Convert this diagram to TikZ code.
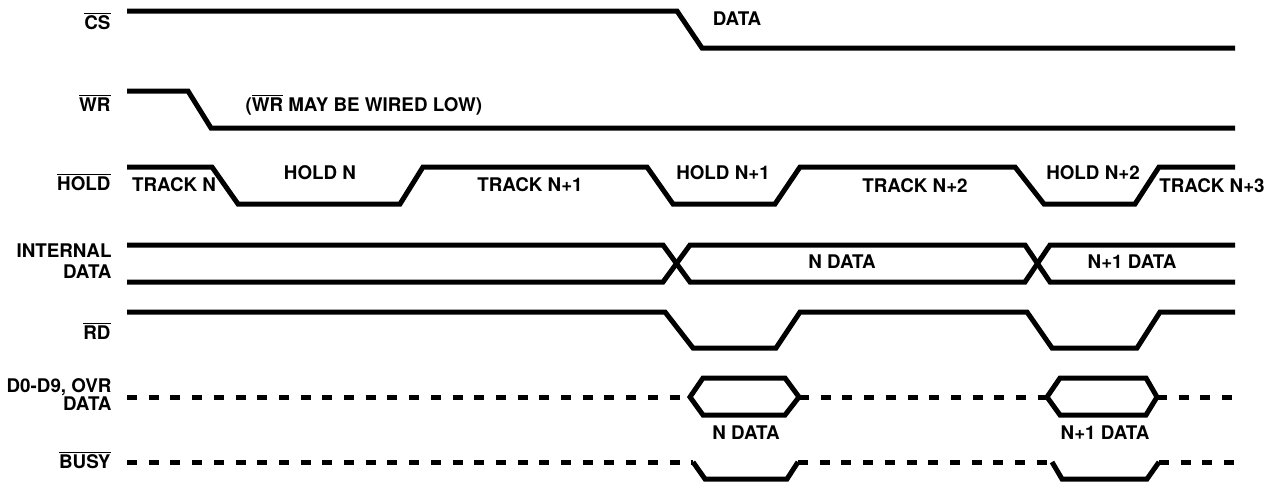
\documentclass[tikz,border=0pt]{standalone}
\usepackage{fontspec}
\setmainfont{TeX Gyre Heros}
\newcommand{\ovl}[1]{$\overline{\mbox{#1}}$}

\begin{document}
\begin{tikzpicture}[x=0.5pt, y=-0.5pt, line width=2.5pt,
        lbl/.style={inner sep=0pt, text height=6.7pt, text depth=0pt, font=\fontsize{9.4}{11}\selectfont\bfseries},
        sig/.style={lbl, anchor=east},
        sigtwo/.style={anchor=east, inner sep=0pt, align=right, font=\fontsize{9.4}{#1}\selectfont\bfseries},
        tristate/.style={dash pattern=on 5pt off 5.85pt}]
        \useasboundingbox (0,0) rectangle (1277,484);

        % signal names
        \node[sig] (cs) at (113,23) {\ovl{CS}};
        \node[sig] (wr) at (113,105) {\ovl{WR}};
        \node[sig] (hold) at (113,184) {\ovl{HOLD}};
        \node[sigtwo=10.8] (intdata) at (114,261) {INTERNAL\\DATA};
        \node[sig] (rd) at (113,333) {\ovl{RD}};
        \node[sigtwo=9.3] (dout) at (114,394.5) {D0-D9, OVR\\DATA};
        \node[sig] (busy) at (113,462) {\ovl{BUSY}};

        % CS and WR
        \draw (127,11) -- (677,11) -- (702,48) -- (1235,48);
        \node[lbl] (csdata) at (737,19) {DATA};
        \draw (127,91) -- (188,91) -- (211,128) -- (1235,128);
        \node[lbl, anchor=west] (wrlow) at (243,105) {(\ovl{WR} MAY BE WIRED LOW)};

        % HOLD
        \draw (127,167) -- (212,167) -- (238,204) -- (400,204) -- (423,167) -- (647,167) -- (673,204)
            -- (775,204) -- (800,167) -- (1015,167) -- (1044,204) -- (1135,204) -- (1159,167) -- (1235,167);
        \node[lbl] (trackn) at (174,185) {TRACK N};
        \node[lbl] (holdn) at (320,173) {HOLD N};
        \node[lbl] (tracknone) at (530,185) {TRACK N+1};
        \node[lbl] (holdnone) at (723,173) {HOLD N+1};
        \node[lbl] (tracknrtwo) at (915,186) {TRACK N+2};
        \node[lbl] (holdntwo) at (1093,173) {HOLD N+2};
        \node[lbl] (tracknthree) at (1212,186) {TRACK N+3};

        % internal data
        \draw (127,245) -- (663,245) -- (690,282) -- (1025,282) -- (1050,245) -- (1235,245);
        \draw (127,282) -- (663,282) -- (690,245) -- (1025,245) -- (1050,282) -- (1235,282);
        \node[lbl] (ndata) at (842,262) {N DATA};
        \node[lbl] (nonedata) at (1132,262) {N+1 DATA};

        % RD
        \draw (127,312) -- (665,312) -- (693,348) -- (776,348) -- (800,312) -- (1027,312) -- (1052,348)
            -- (1137,348) -- (1160,312) -- (1235,312);

        % output data
        \draw[tristate] (127,397) -- (690,397);
        \draw (690,397) -- (703,378) -- (785,378) -- (799,397) -- (785,415) -- (703,415) -- cycle;
        \draw[tristate] (799,397) -- (1047,397);
        \draw (1047,397) -- (1060,378) -- (1146,378) -- (1157,397) -- (1146,415) -- (1060,415) -- cycle;
        \draw[tristate] (1157,397) -- (1234,397);
        \node[lbl] (outn) at (746,433) {N DATA};
        \node[lbl] (outnone) at (1105,433) {N+1 DATA};

        % BUSY
        \draw[tristate] (127,462) -- (693,462);
        \draw (693,462) -- (705,479) -- (787,479) -- (798,462);
        \draw[tristate] (798,462) -- (1052,462);
        \draw (1052,462) -- (1062,479) -- (1147,479) -- (1159,462);
        \draw[tristate] (1159,462) -- (1234,462);
    \end{tikzpicture}
\end{document}
